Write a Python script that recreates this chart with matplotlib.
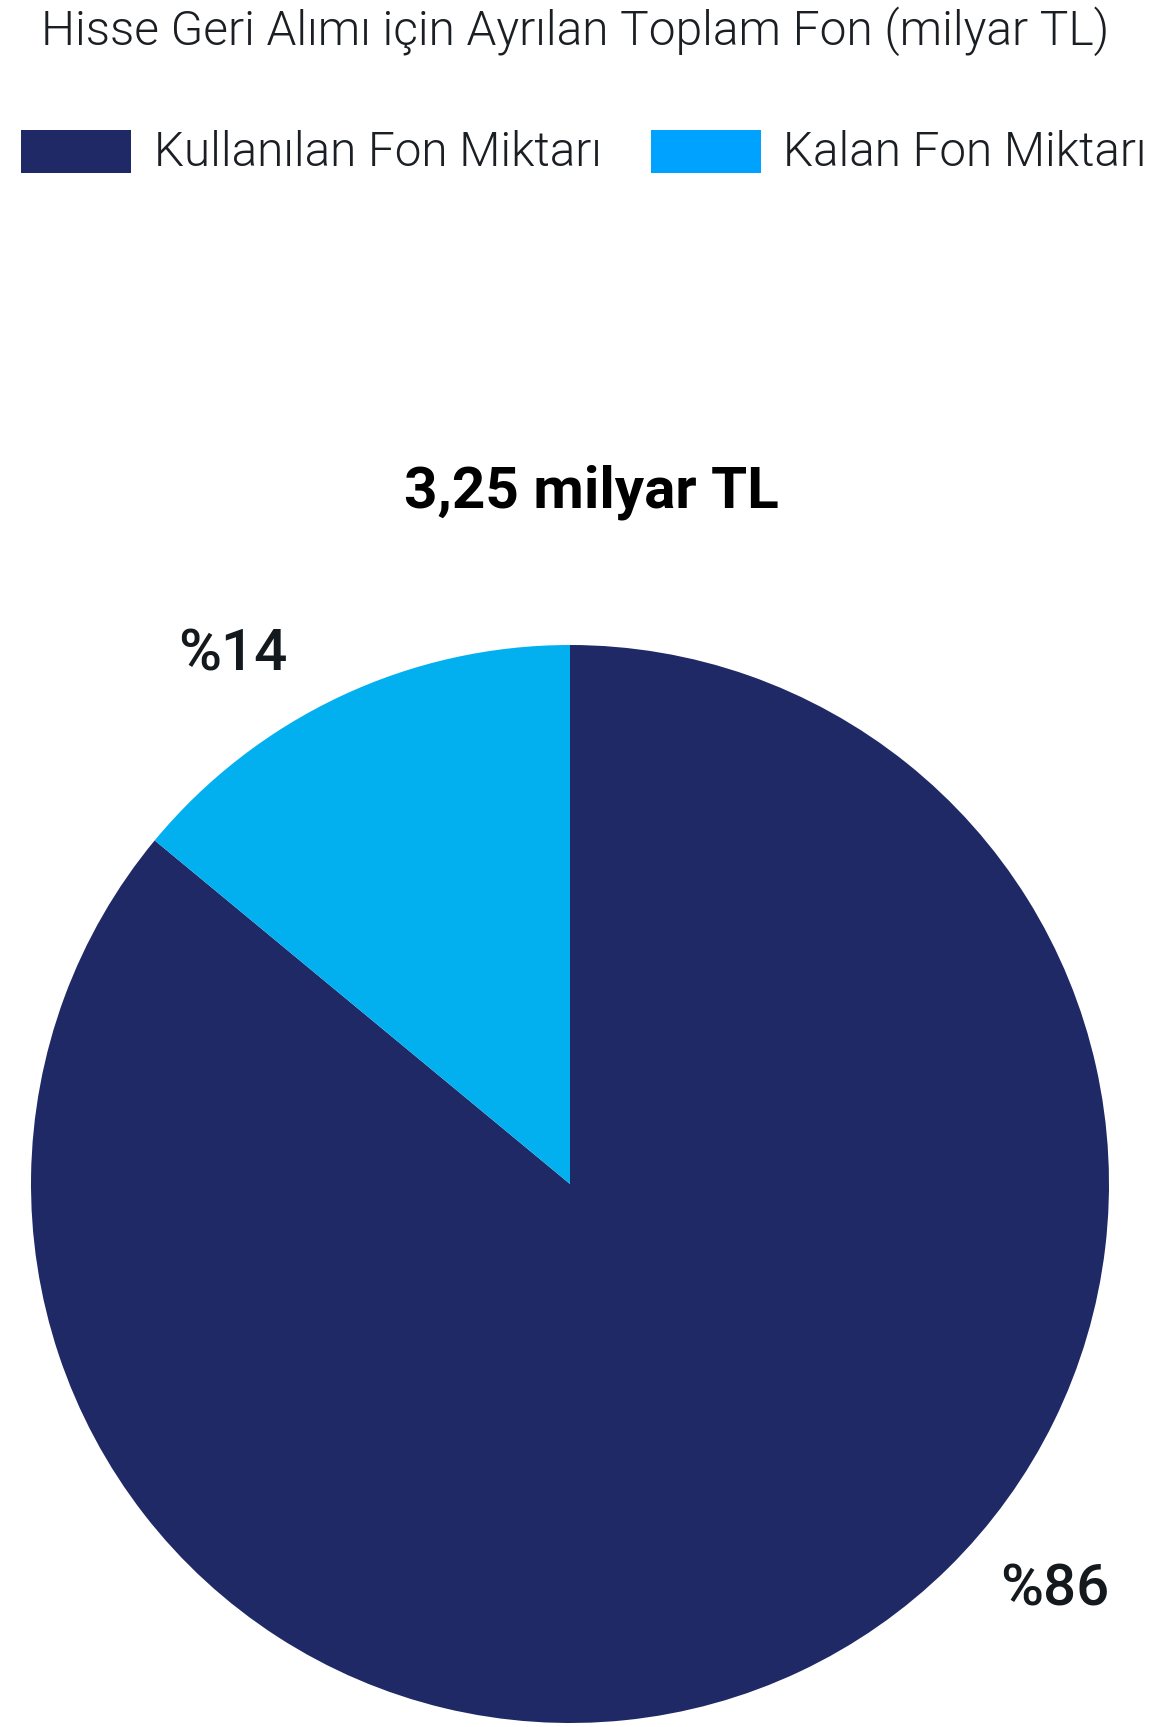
import matplotlib; matplotlib.use("Agg")
import matplotlib.pyplot as plt
from matplotlib.patches import Rectangle

W, H = 1159, 1727

title = "Hisse Geri Alımı için Ayrılan Toplam Fon (milyar TL)"
total_label = "3,25 milyar TL"
categories = ["Kullanılan Fon Miktarı", "Kalan Fon Miktarı"]
shares = [86, 14]
share_labels = ["%86", "%14"]

pie_colors = ["#1E2966", "#02B0F0"]
legend_colors = ["#1E2966", "#00A2FF"]

plt.rcParams["font.family"] = ["Roboto", "DejaVu Sans"]

fig = plt.figure(figsize=(W / 100, H / 100), dpi=100)
ax = fig.add_axes([0, 0, 1, 1])

def py(y):
    # pixel row (top-down) -> data y
    return H - y

# pie: 86% clockwise from 12 o'clock, 14% fills the rest
ax.pie(shares, colors=pie_colors, startangle=90, counterclock=False,
       center=(570, py(1184)), radius=539,
       wedgeprops=dict(linewidth=0))
ax.set_xlim(0, W)
ax.set_ylim(0, H)
ax.set_aspect("equal")
ax.axis("off")

ax.text(575, py(31), title, ha="center", va="center", fontsize=34.5,
        fontweight=300, color="#1b1f23")

# legend, laid out by hand
sw_x = [21, 651]
txt_x = [154, 783]
for c, x0, tx, lab in zip(legend_colors, sw_x, txt_x, categories):
    ax.add_patch(Rectangle((x0, py(173)), 110, 43, color=c, lw=0))
    ax.text(tx, py(153), lab, ha="left", va="center", fontsize=34.3,
            fontweight=300, color="#1b1f23")

ax.text(591, py(492), total_label, ha="center", va="center", fontsize=42,
        fontweight="bold", color="black")

label_pos = [(1055, 1590), (233, 655)]
for lab, (x, y) in zip(share_labels, label_pos):
    ax.text(x, py(y), lab, ha="center", va="center", fontsize=42,
            fontweight=500, color="#14191d")

fig.savefig("out.png", dpi=100)
